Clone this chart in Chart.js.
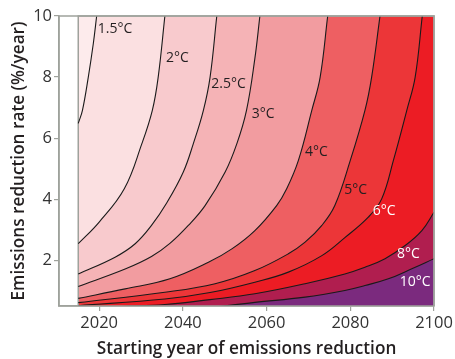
<!DOCTYPE html>
<html><head><meta charset="utf-8">
<script src="https://cdn.jsdelivr.net/npm/chart.js@4"></script>
<style>html,body{margin:0;padding:0;background:#fff}#wrap{width:455px;height:359px;position:relative}</style>
</head><body><div id="wrap"><canvas id="c" width="455" height="359"></canvas></div>
<script>
// ---- data ----
const xTicks = [2020, 2040, 2060, 2080, 2100];
const yTicks = [2, 4, 6, 8, 10];
const levelNames = ['1.5°C', '2°C', '2.5°C', '3°C', '4°C', '5°C', '6°C', '8°C', '10°C'];

const c15Years = [2015, 2016.0, 2017.4, 2018.6, 2019.4];
const c15Rates = [6.48, 6.91, 8.0, 9.1, 10];

const c2Years = [2015, 2020.0, 2026.0, 2030.2, 2032.7, 2034.1, 2035.7];
const c2Rates = [2.54, 3.25, 4.34, 5.82, 6.91, 8.0, 10];

const c25Years = [2015, 2023.8, 2028.6, 2032.5, 2036.2, 2040.1, 2042.5, 2044.9, 2046.5, 2048.1];
const c25Rates = [1.55, 2.10, 2.54, 3.14, 3.89, 4.89, 5.82, 6.91, 8.0, 10];

const c3Years = [2015, 2026.2, 2032.5, 2036.9, 2041.3, 2045.3, 2050.1, 2052.9, 2055.2, 2057.2, 2058.4];
const c3Rates = [1.14, 1.71, 2.12, 2.55, 3.14, 3.79, 4.89, 5.82, 6.91, 8.61, 10];

const c4Years = [2015, 2026.2, 2036.9, 2046.1, 2051.7, 2057.2, 2062.4, 2064.8, 2067.6, 2070.8, 2072.8, 2074.6];
const c4Rates = [0.75, 1.06, 1.39, 1.93, 2.37, 2.97, 3.79, 4.34, 5.27, 6.91, 8.0, 10];

const c5Years = [2015, 2035.7, 2047.7, 2057.2, 2065.2, 2069.2, 2073.2, 2076.3, 2080.0, 2083.5, 2085.1, 2087.1];
const c5Rates = [0.61, 0.95, 1.23, 1.66, 2.21, 2.59, 3.14, 3.79, 5.27, 6.91, 8.0, 10];

const c6Years = [2015, 2035.7, 2046.5, 2057.2, 2065.2, 2073.2, 2078.7, 2084.3, 2087.5, 2090.3, 2093.5, 2095.5, 2097.2];
const c6Rates = [0.51, 0.73, 0.94, 1.28, 1.61, 2.15, 2.74, 3.41, 4.01, 5.27, 6.91, 8.0, 10];

const c8Years = [2015, 2025, 2035.7, 2046.5, 2057.2, 2069.2, 2078.7, 2083.5, 2088.3, 2093.1, 2097.1, 2100];
const c8Rates = [0.40, 0.48, 0.55, 0.71, 0.90, 1.23, 1.55, 1.77, 2.05, 2.48, 2.97, 3.57];

const c10Years = [2015, 2036.9, 2047.7, 2057.2, 2069.2, 2078.7, 2083.5, 2089.1, 2094.7, 2100];
const c10Rates = [0.22, 0.35, 0.47, 0.62, 0.79, 1.01, 1.17, 1.39, 1.72, 2.05];

const domainYears = [2015, 2015, 2100, 2100];
const domainRates = [0.5, 10, 10, 0.5];

// ---- styling / layout (not data) ----
const bandColors = ['#fdebec', '#fbe0e1', '#f8cacd', '#f5b3b6', '#f29ca0', '#ee5f62', '#ec3638', '#ec1c24', '#b01e4f', '#7b2a7e'];
const labelColors = ['#231f20','#231f20','#231f20','#231f20','#231f20','#231f20','#ffffff','#ffffff','#ffffff'];
const labelAnchors = [[2023.8, 9.59], [2038.7, 8.64], [2050.9, 7.76], [2059.2, 6.80], [2071.9, 5.56], [2081.3, 4.31], [2088.1, 3.61], [2093.9, 2.19], [2095.5, 1.28]];
const axisGray = '#9fa29c';
const FONT = '"Open Sans", "Noto Sans", sans-serif';

const zip = (xs, ys) => xs.map((v, i) => ({x: v, y: ys[i]}));
const contours = [
  [c15Years, c15Rates], [c2Years, c2Rates], [c25Years, c25Rates], [c3Years, c3Rates],
  [c4Years, c4Rates], [c5Years, c5Rates], [c6Years, c6Rates], [c8Years, c8Rates], [c10Years, c10Rates]
];

const datasets = [{
  data: zip(domainYears, domainRates),
  showLine: true, fill: 'start', backgroundColor: bandColors[9],
  borderColor: axisGray, borderWidth: 1.5, pointRadius: 0, tension: 0, order: 50, clip: 2
}];
contours.forEach(([xs, ys], i) => {
  datasets.push({
    label: levelNames[i],
    data: zip(xs, ys),
    showLine: true, fill: 'end', backgroundColor: bandColors[i],
    borderColor: '#1a1a1a', borderWidth: 1.1, pointRadius: 0,
    tension: 0.4, order: 10 + i, clip: 0
  });
});

const contourLabels = {
  id: 'contourLabels',
  afterDatasetsDraw(chart) {
    const {ctx, scales: {x, y}} = chart;
    ctx.save();
    ctx.font = '14px ' + FONT;
    ctx.textAlign = 'center';
    ctx.textBaseline = 'middle';
    levelNames.forEach((t, i) => {
      ctx.fillStyle = labelColors[i];
      ctx.fillText(t, x.getPixelForValue(labelAnchors[i][0]), y.getPixelForValue(labelAnchors[i][1]));
    });
    ctx.restore();
  }
};
const frame = {
  id: 'frame',
  afterDatasetsDraw(chart) {
    const {ctx, chartArea: a} = chart;
    ctx.save();
    ctx.strokeStyle = axisGray;
    ctx.lineWidth = 1.5;
    ctx.strokeRect(a.left, a.top, a.right - a.left, a.bottom - a.top);
    ctx.restore();
  }
};

new Chart(document.getElementById('c'), {
  type: 'scatter',
  data: {datasets},
  options: {
    responsive: false, animation: false, devicePixelRatio: 1,
    layout: {padding: {left: 0, right: 21, top: 16, bottom: 0}},
    plugins: {legend: {display: false}, tooltip: {enabled: false}, filler: {drawTime: 'beforeDatasetsDraw'}},
    scales: {
      x: {
        type: 'linear', min: 2010.4, max: 2100,
        afterBuildTicks: s => { s.ticks = xTicks.map(v => ({value: v})); },
        afterFit: s => { s.height = 53; },
        grid: {drawOnChartArea: false, tickLength: 5, color: axisGray, lineWidth: 1.2},
        border: {display: true, color: axisGray, width: 1.5},
        ticks: {color: '#333', font: {family: FONT, size: 16.5}, padding: 2, maxRotation: 0, callback: v => String(v)},
        title: {display: true, text: 'Starting year of emissions reduction', color: '#231f20',
                font: {family: FONT, size: 17.2, weight: '600'}, padding: {top: 0, bottom: 0}}
      },
      y: {
        type: 'linear', min: 0.5, max: 10,
        afterBuildTicks: s => { s.ticks = yTicks.map(v => ({value: v})); },
        afterFit: s => { s.width = 59; },
        grid: {drawOnChartArea: false, tickLength: 5, color: axisGray, lineWidth: 1.2},
        border: {display: true, color: axisGray, width: 1.5},
        ticks: {color: '#333', font: {family: FONT, size: 16.5}, padding: 2, callback: v => String(v)},
        title: {display: true, text: 'Emissions reduction rate (%/year)', color: '#231f20',
                font: {family: FONT, size: 17.2, weight: '600'}, padding: {top: 9, bottom: 0}}
      }
    }
  },
  plugins: [contourLabels, frame]
});
</script>
</body></html>
